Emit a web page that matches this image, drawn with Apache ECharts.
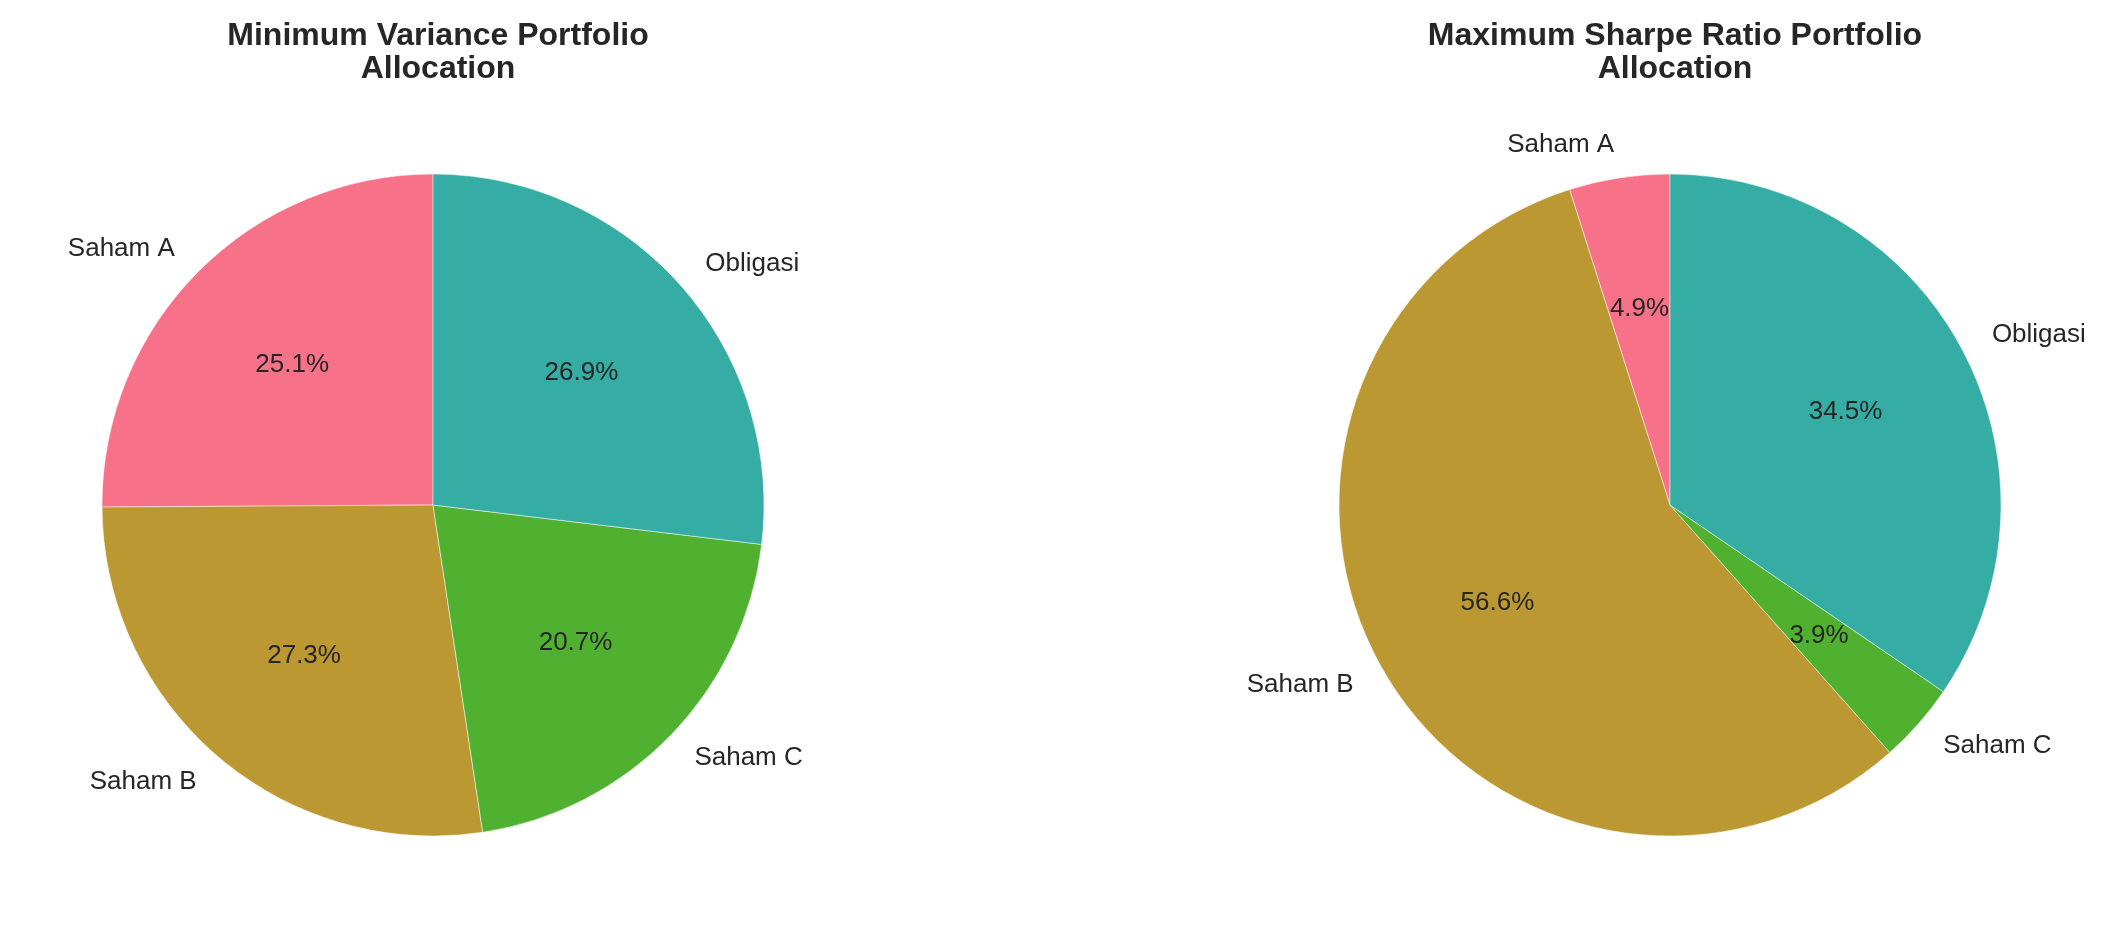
<!DOCTYPE html>
<html>
<head>
<meta charset="utf-8">
<script src="https://cdn.jsdelivr.net/npm/echarts@6/dist/echarts.min.js"></script>
<style>
  html, body { margin: 0; padding: 0; background: #fff; }
  #chart { width: 2108px; height: 938px; }
</style>
</head>
<body>
<div id="chart"></div>
<script>
// portfolio data
const assets = ["Saham A", "Saham B", "Saham C", "Obligasi"];
const minVarWeights = [25.1, 27.3, 20.7, 26.9];
const maxSharpeWeights = [4.9, 56.6, 3.9, 34.5];
const colors = ["#f77189", "#bb9832", "#50b131", "#36ada4"];

const font = "'Liberation Sans', Arial, sans-serif";
const textColor = "#262626";
const R = 331;

function toData(values, fill) {
  return assets.map(function (name, i) {
    return {
      name: name,
      value: values[i],
      itemStyle: { color: fill ? colors[i] : "rgba(0,0,0,0)" },
    };
  });
}

function pieSeries(values, cx) {
  return [
    {
      // slices + name labels outside (labeldistance 1.1)
      type: "pie",
      center: [cx, 505],
      radius: R,
      startAngle: 90,
      clockwise: false,
      avoidLabelOverlap: false,
      silent: true,
      itemStyle: { borderColor: "#fff", borderWidth: 0.5 },
      label: {
        show: true,
        position: "outside",
        formatter: "{b}",
        color: textColor,
        fontFamily: font,
        fontSize: 26,
        distanceToLabelLine: 0,
      },
      labelLine: { show: false, length: 33, length2: 0 },
      data: toData(values, true),
    },
    {
      // percentage labels at 0.6 r
      type: "pie",
      center: [cx, 505],
      radius: 391,
      startAngle: 90,
      clockwise: false,
      silent: true,
      z: 3,
      label: {
        show: true,
        position: "inside",
        formatter: function (p) {
          return p.value.toFixed(1) + "%";
        },
        color: textColor,
        fontFamily: font,
        fontSize: 26,
      },
      labelLine: { show: false },
      data: toData(values, false),
    },
  ];
}

const titleStyle = { fontFamily: font, fontSize: 32, fontWeight: "bold", color: textColor, lineHeight: 33 };

const chart = echarts.init(document.getElementById("chart"));
chart.setOption({
  animation: false,
  backgroundColor: "#fff",
  title: [
    {
      text: "Minimum Variance Portfolio\nAllocation",
      left: 433,
      top: 15,
      textAlign: "center",
      textStyle: titleStyle,
    },
    {
      text: "Maximum Sharpe Ratio Portfolio\nAllocation",
      left: 1670,
      top: 15,
      textAlign: "center",
      textStyle: titleStyle,
    },
  ],
  series: pieSeries(minVarWeights, 433).concat(pieSeries(maxSharpeWeights, 1670)),
});
</script>
</body>
</html>
